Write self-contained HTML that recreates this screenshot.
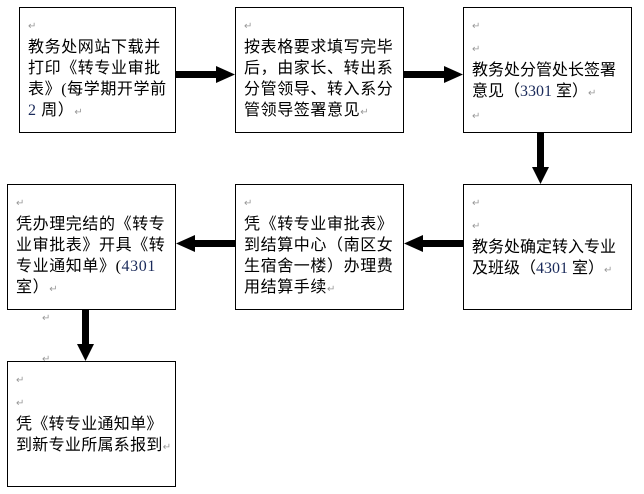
<!DOCTYPE html>
<html><head><meta charset="utf-8"><style>
body{margin:0;width:644px;height:494px;background:#fff;position:relative;overflow:hidden;font-family:"Liberation Serif","Noto Sans CJK SC",sans-serif;}
.b{position:absolute;border:1.3px solid #000;box-sizing:border-box;}
.t{position:absolute;font-size:16px;line-height:21px;color:#000;white-space:nowrap;letter-spacing:0.6px;}
.r{color:#999;font-size:10px;letter-spacing:0;}
.n{color:#1a2a5a;}
</style></head><body>
<div class="b" style="left:19px;top:7px;width:157px;height:126px"></div>
<div class="b" style="left:235px;top:7px;width:169px;height:126px"></div>
<div class="b" style="left:463px;top:7px;width:169px;height:126px"></div>
<div class="b" style="left:7px;top:184px;width:169px;height:126px"></div>
<div class="b" style="left:235px;top:184px;width:169px;height:126px"></div>
<div class="b" style="left:463px;top:184px;width:169px;height:126px"></div>
<div class="b" style="left:7px;top:361px;width:169px;height:126px"></div>

<div class="t" style="left:28px;top:14px"><span class="r">↵</span><br>教务处网站下载并<br>打印《转专业审批<br>表》(每学期开学前<br><span class="n">2</span> 周）<span class="r">↵</span></div>
<div class="t" style="left:244px;top:14px"><span class="r">↵</span><br>按表格要求填写完毕<br>后，由家长、转出系<br>分管领导、转入系分<br>管领导签署意见<span class="r">↵</span></div>
<div class="t" style="left:472px;top:14px;letter-spacing:0"><span class="r">↵</span><br><span class="r">↵</span><br>教务处分管处长签署<br>意见（<span class="n">3301</span> 室）<span class="r">↵</span><br><span class="r">↵</span></div>
<div class="t" style="left:472px;top:191px;letter-spacing:0"><span class="r">↵</span><br><span class="r">↵</span><br>教务处确定转入专业<br>及班级（<span class="n">4301</span> 室）<span class="r">↵</span></div>
<div class="t" style="left:244px;top:191px"><span class="r">↵</span><br>凭《转专业审批表》<br>到结算中心（南区女<br>生宿舍一楼）办理费<br>用结算手续<span class="r">↵</span></div>
<div class="t" style="left:16px;top:191px"><span class="r">↵</span><br>凭办理完结的《转专<br>业审批表》开具《转<br>专业通知单》(<span class="n">4301</span><br>室）<span class="r">↵</span></div>
<div class="t" style="left:16px;top:368px;letter-spacing:0.3px"><span class="r">↵</span><br><span class="r">↵</span><br>凭《转专业通知单》<br>到新专业所属系报到<span class="r">↵</span></div>
<div class="t r" style="left:42px;top:308px">↵</div>
<div class="t r" style="left:42px;top:349px">↵</div>

<svg width="644" height="494" style="position:absolute;left:0;top:0">
<g fill="#000">
<rect x="176" y="71" width="42" height="7"/><polygon points="216,66 235,74.5 216,83"/>
<rect x="404" y="71" width="42" height="7"/><polygon points="444,66 463,74.5 444,83"/>
<rect x="537" y="133" width="7" height="36"/><polygon points="532,167 549,167 540.5,184"/>
<rect x="193" y="240" width="42" height="7"/><polygon points="195,235 176,243.5 195,252"/>
<rect x="421" y="240" width="42" height="7"/><polygon points="423,235 404,243.5 423,252"/>
<rect x="82" y="310" width="7" height="36"/><polygon points="77,344 94,344 85.5,361"/>
</g></svg>
</body></html>
